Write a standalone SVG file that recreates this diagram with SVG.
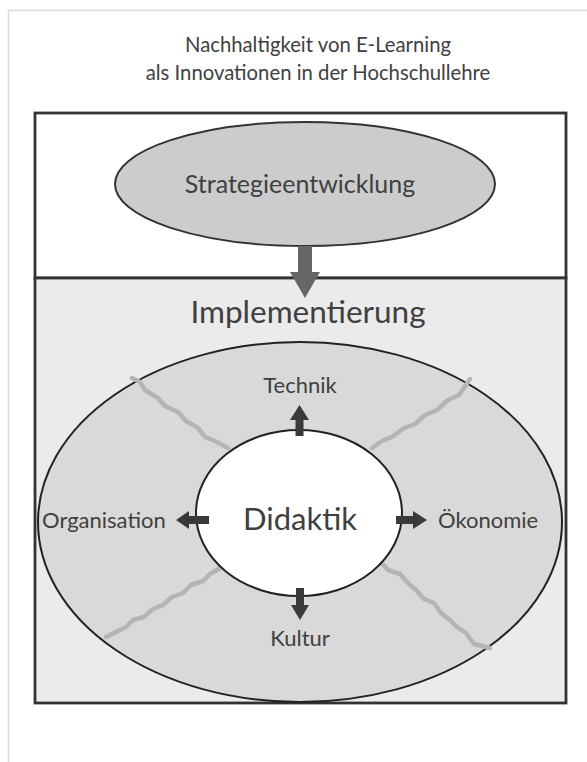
<svg xmlns="http://www.w3.org/2000/svg" width="587" height="762" viewBox="0 0 587 762">
  <style>
    text { font-family: Lato, "Open Sans", "Liberation Sans", sans-serif; fill: #404040; }
    .title { font-size: 20.3px; text-anchor: middle; }
    .label { font-size: 22px; }
    .frame { stroke: #333; stroke-width: 2.8; }
    .seam { fill: none; stroke: #b4b4b4; stroke-width: 4.5; stroke-linejoin: round; stroke-linecap: round; }
    .dark { fill: #3a3a3a; }
  </style>

  <!-- page edge -->
  <path d="M8.5,762 V10.5 H587" fill="none" stroke="#dadada" stroke-width="1.5"/>

  <!-- heading -->
  <g id="title">
    <text class="title" x="318" y="52">Nachhaltigkeit von E-Learning</text>
    <text class="title" x="318" y="80">als Innovationen in der Hochschullehre</text>
  </g>

  <!-- outer frame: strategy band and implementation band -->
  <g id="frame">
    <rect x="35" y="113" width="531" height="165" fill="#ffffff" class="frame"/>
    <rect x="35" y="278" width="531" height="425" fill="#ebebeb" class="frame"/>
  </g>

  <g id="strategie">
    <ellipse cx="305" cy="184" rx="190" ry="62" fill="#cccccc" stroke="#333" stroke-width="2"/>
    <text x="300" y="193" font-size="25" text-anchor="middle">Strategieentwicklung</text>
  </g>

  <g id="implementierung">
    <text x="308" y="323" font-size="31.5" text-anchor="middle">Implementierung</text>
    <ellipse cx="300" cy="522" rx="262" ry="180" fill="#d9d9d9" stroke="#222" stroke-width="2"/>
  </g>

  <!-- seams between the four sectors of the ring -->
  <g id="seams">
    <polyline class="seam" points="132,378 140,382 145,390 158,398 165,406 178,412 186,421 198,428 205,437 215,441 228,448"/>
    <polyline class="seam" points="372,448 382,441 392,437 404,428 415,424 425,415 437,410 448,400 459,395 470,379"/>
    <polyline class="seam" points="106,637 116,632 126,627 133,620 144,617 153,609 163,605 172,597 183,593 191,585 203,581 210,574 222,567 228,561"/>
    <polyline class="seam" points="381,562 388,570 400,574 408,583 416,590 424,599 434,603 441,613 450,620 457,627 466,633 474,644 490,648"/>
  </g>

  <g id="didaktik">
    <ellipse cx="299" cy="513" rx="103" ry="83" fill="#ffffff" stroke="#222" stroke-width="2"/>
    <text x="300" y="530" font-size="31" text-anchor="middle">Didaktik</text>
  </g>

  <g id="technik"><text class="label" x="300" y="393" text-anchor="middle">Technik</text></g>
  <g id="organisation"><text class="label" x="42" y="528">Organisation</text></g>
  <g id="oekonomie"><text class="label" x="438" y="528">Ökonomie</text></g>
  <g id="kultur"><text class="label" x="300" y="646" text-anchor="middle">Kultur</text></g>

  <g id="connectors">
    <!-- strategy feeds implementation -->
    <path d="M298,246 H312 V272 H320 L305,298 L290,272 H298 Z" fill="#666666"/>
    <!-- didactics radiating out to the four fields -->
    <path class="dark" d="M295.5,436 V420 H290 L299.5,405 L309,420 H303.5 V436 Z"/>
    <path class="dark" d="M209,516 H189 V511 L176,520 L189,529 V524 H209 Z"/>
    <path class="dark" d="M396,516 H413 V511 L427,520 L413,529 V524 H396 Z"/>
    <path class="dark" d="M296,588 V605 H291 L300,620 L309,605 H304 V588 Z"/>
  </g>
</svg>
